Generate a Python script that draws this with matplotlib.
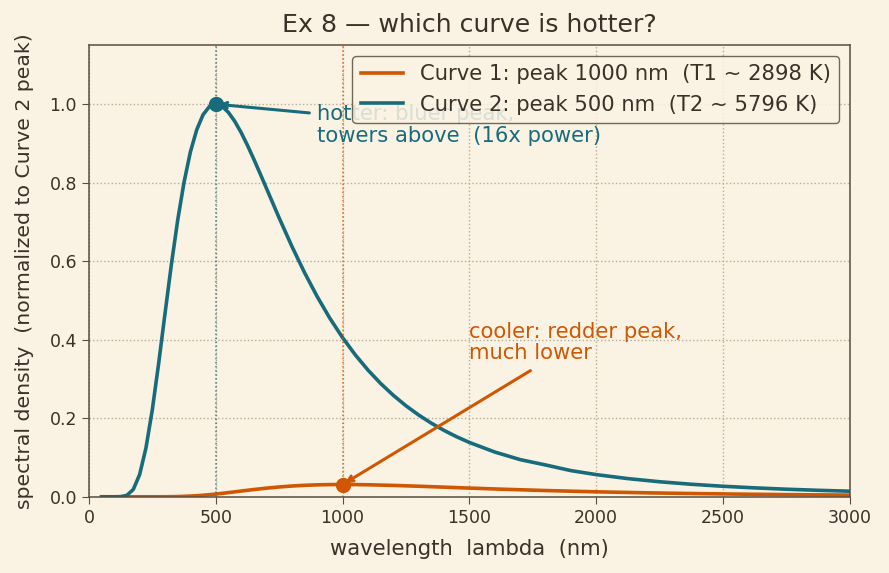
import matplotlib
matplotlib.use("Agg")
import matplotlib.pyplot as plt

# values (normalized to Curve 2 peak)
wl2 = [50, 100, 125, 150, 175, 200, 225, 250, 275, 300, 325, 350, 375, 400,
       425, 450, 475, 500, 525, 550, 575, 600, 625, 650, 675, 700, 750, 800,
       850, 900, 950, 1000, 1050, 1100, 1150, 1200, 1250, 1300, 1350, 1400,
       1450, 1500, 1600, 1700, 1800, 1900, 2000, 2125, 2250, 2375, 2500,
       2625, 2750, 2875, 3000]
curve2 = [0.0, 0.00001, 0.00035, 0.0038, 0.0187, 0.0566, 0.1246, 0.2218,
          0.3397, 0.4665, 0.591, 0.7044, 0.801, 0.878, 0.9347, 0.973, 0.9939,
          1.0, 0.9945, 0.979, 0.9563, 0.928, 0.8953, 0.860, 0.8232, 0.7856,
          0.7103, 0.6382, 0.5711, 0.5099, 0.4546, 0.4054, 0.3616, 0.3229,
          0.2887, 0.2585, 0.2318, 0.2083, 0.1875, 0.1691, 0.1528, 0.1384,
          0.1140, 0.0947, 0.0811, 0.0667, 0.0565, 0.0463, 0.0383, 0.0319,
          0.0268, 0.0227, 0.0193, 0.0165, 0.0142]

wl1 = [50, 100, 200, 250, 300, 350, 400, 450, 500, 550, 600, 650, 700, 750,
       800, 850, 900, 950, 1000, 1050, 1100, 1200, 1300, 1400, 1500, 1600,
       1800, 2000, 2200, 2400, 2600, 2800, 3000]
curve1 = [0.0, 0.0, 0.0, 0.00001, 0.00012, 0.00059, 0.00177, 0.00389,
          0.00693, 0.01062, 0.01458, 0.01847, 0.02201, 0.02503, 0.02744,
          0.02921, 0.03041, 0.03106, 0.03125, 0.03108, 0.03059, 0.0290,
          0.02688, 0.02455, 0.0222, 0.01994, 0.01593, 0.01267, 0.01009,
          0.00808, 0.00651, 0.00528, 0.00432]

peak1 = (1000, 0.03125)
peak2 = (500, 1.0)

BG = "#faf3e3"
INK = "#3b3128"
ORANGE = "#cf5703"
TEAL = "#186b7b"

plt.rcParams["font.family"] = ["DejaVu Sans"]
fig, ax = plt.subplots(figsize=(8.89, 5.73), dpi=100)
fig.patch.set_facecolor(BG)
ax.set_facecolor(BG)

ax.plot(wl1, curve1, color=ORANGE, lw=2.6,
        label="Curve 1: peak 1000 nm  (T1 ~ 2898 K)")
ax.plot(wl2, curve2, color=TEAL, lw=2.6,
        label="Curve 2: peak 500 nm  (T2 ~ 5796 K)")

ax.axvline(peak2[0], color=TEAL, ls=":", lw=1.1, alpha=0.8)
ax.axvline(peak1[0], color=ORANGE, ls=":", lw=1.1, alpha=0.8)
ax.plot(*peak2, "o", color=TEAL, ms=10)
ax.plot(*peak1, "o", color=ORANGE, ms=10)

ax.annotate("", xy=peak2, xytext=(880, 0.977),
            arrowprops=dict(arrowstyle="->", color=TEAL, lw=2.2))
ax.text(900, 1.0, "hotter: bluer peak,\ntowers above  (16x power)",
        color=TEAL, fontsize=15.2, va="top", ha="left", linespacing=1.1)

ax.annotate("", xy=peak1, xytext=(1750, 0.325),
            arrowprops=dict(arrowstyle="->", color=ORANGE, lw=2.2))
ax.text(1500, 0.34, "cooler: redder peak,\nmuch lower",
        color=ORANGE, fontsize=15.2, va="bottom", ha="left", linespacing=1.1)

ax.set_xlim(0, 3000)
ax.set_ylim(0, 1.15)
ax.set_yticks([0.0, 0.2, 0.4, 0.6, 0.8, 1.0])
ax.grid(True, ls=":", color="#b8ab95", lw=1.0)
ax.set_axisbelow(True)

for s in ax.spines.values():
    s.set_color("#5a4d40")
    s.set_linewidth(1.1)
ax.tick_params(colors=INK, labelsize=12.5, length=5, color="#5a4d40")

ax.set_title("Ex 8 — which curve is hotter?", color=INK, fontsize=18.2,
             pad=9.5)
ax.set_xlabel("wavelength  lambda  (nm)", color=INK, fontsize=15.2,
              labelpad=9)
ax.set_ylabel("spectral density  (normalized to Curve 2 peak)", color=INK,
              fontsize=14.7, labelpad=11)

leg = ax.legend(loc="upper right", fontsize=15.2, framealpha=0.85,
                facecolor=BG, edgecolor="#5a4d40", fancybox=True)
for t in leg.get_texts():
    t.set_color(INK)

fig.subplots_adjust(left=0.1, right=0.956, top=0.921, bottom=0.133)
fig.savefig("out.png", dpi=100, facecolor=BG)
